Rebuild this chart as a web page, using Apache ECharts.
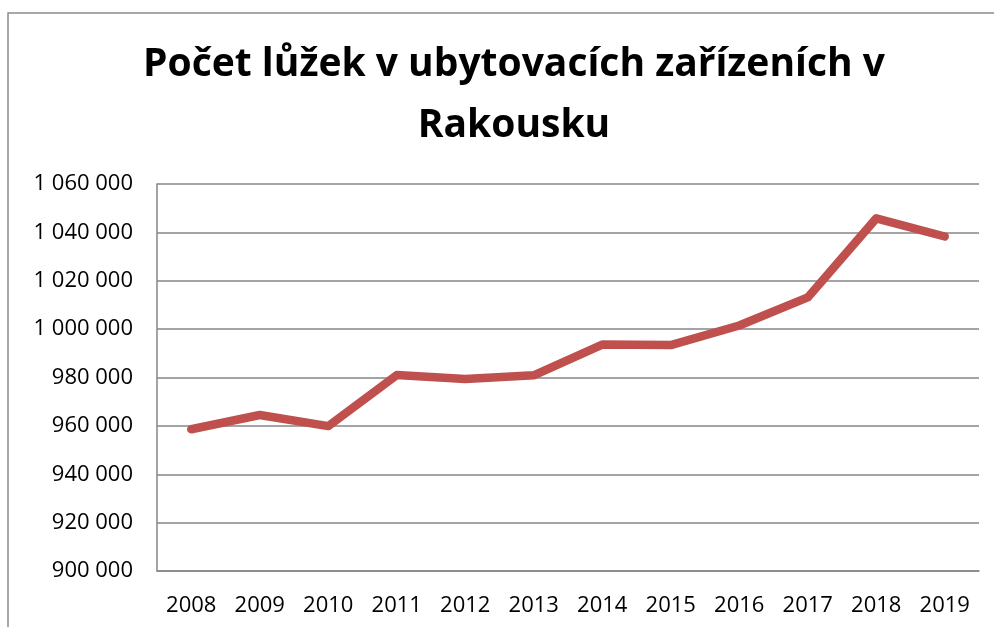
<!DOCTYPE html>
<html>
<head>
<meta charset="utf-8">
<script src="https://cdn.jsdelivr.net/npm/echarts@6/dist/echarts.min.js"></script>
<style>
  html, body { margin: 0; padding: 0; background: #fff; }
  #chart { width: 994px; height: 627px; }
</style>
</head>
<body>
<div id="chart"></div>
<script>
  // data
  const years = ['2008', '2009', '2010', '2011', '2012', '2013', '2014', '2015', '2016', '2017', '2018', '2019']
  const beds = [958600, 964500, 959900, 981000, 979400, 980900, 993600, 993400, 1001500, 1013100, 1045800, 1038300]
  const yMin = 900000
  const yMax = 1060000
  const yStep = 20000

  const chart = echarts.init(document.getElementById('chart'))

  // "1 060 000" style labels
  function spaced (v) {
    return String(v).replace(/\B(?=(\d{3})+(?!\d))/g, ' ')
  }

  chart.setOption({
    animation: false,
    textStyle: { fontFamily: 'Open Sans' },
    title: {
      text: 'Počet lůžek v ubytovacích zařízeních v\nRakousku',
      left: 509,
      top: 29,
      textAlign: 'center',
      textStyle: {
        fontFamily: 'Open Sans',
        fontWeight: 'bold',
        fontSize: 39,
        lineHeight: 61,
        color: '#000'
      }
    },
    graphic: [{
      type: 'rect',
      shape: { x: 8, y: 13, width: 1100, height: 700 },
      style: { fill: 'none', stroke: '#8c8c8c', lineWidth: 1.5 },
      silent: true
    }],
    grid: {
      left: 157,
      right: 15,
      top: 184,
      bottom: 56
    },
    xAxis: {
      type: 'category',
      data: years,
      boundaryGap: true,
      axisLine: { show: true, lineStyle: { color: '#868686', width: 1.5 } },
      axisTick: { show: false },
      axisLabel: {
        color: '#000',
        fontSize: 22,
        margin: 24,
        interval: 0
      }
    },
    yAxis: {
      type: 'value',
      min: yMin,
      max: yMax,
      interval: yStep,
      axisLine: { show: true, lineStyle: { color: '#868686', width: 1.5 } },
      axisTick: { show: false },
      splitLine: { show: true, lineStyle: { color: '#868686', width: 1.5 } },
      axisLabel: {
        color: '#000',
        fontSize: 22,
        margin: 24,
        formatter: spaced
      }
    },
    series: [{
      name: 'Počet lůžek',
      type: 'line',
      data: beds,
      symbol: 'none',
      lineStyle: { color: '#C0504D', width: 8.5, cap: 'round', join: 'round' }
    }]
  })
</script>
</body>
</html>
